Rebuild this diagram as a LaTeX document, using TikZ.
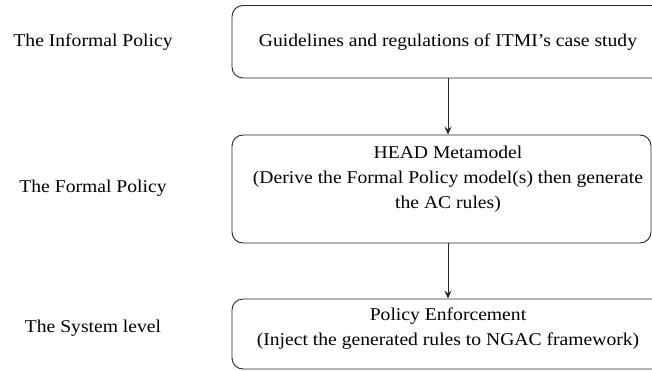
\documentclass[tikz,border=0pt]{standalone}
\usepackage{fontspec}
\setmainfont[FakeStretch=1.09]{Liberation Serif}
\usetikzlibrary{arrows.meta}
\begin{document}
\begin{tikzpicture}[x=1pt,y=-1pt,
  stagebox/.style={draw=black!85, line width=0.9pt, rounded corners=11pt, inner sep=0pt},
  boxtext/.style={align=center, font=\fontsize{18}{25}\selectfont, inner sep=0pt},
  sidelabel/.style={font=\fontsize{18}{22}\selectfont, inner sep=0pt},
  flow/.style={draw=black!85, line width=0.9pt, -{Stealth[length=8pt,width=7pt,inset=3pt]}}
]
\useasboundingbox (0,0) rectangle (652,371);
\clip (0,0) rectangle (652,371);
\fill[white] (0,0) rectangle (652,371);

% stage boxes
\node[stagebox, minimum width=432pt, minimum height=72.5pt] (b1) at (448,41.75) {};
\node[stagebox, minimum width=419pt, minimum height=108pt] (b2) at (441.5,189) {};
\node[stagebox, minimum width=432pt, minimum height=70pt] (b3) at (448,334) {};

% box texts
\node[boxtext] (t1) at (448,42) {Guidelines and regulations of ITMI’s case study};
\node[boxtext] (t2) at (448,179.5) {HEAD Metamodel\\(Derive the Formal Policy model(s) then generate\\the AC rules)};
\node[boxtext] (t3) at (448,329) {Policy Enforcement\\(Inject the generated rules to NGAC framework)};

% level labels
\node[sidelabel] (l1) at (93,42) {The Informal Policy};
\node[sidelabel] (l2) at (93,188) {The Formal Policy};
\node[sidelabel] (l3) at (93,328) {The System level};

% flow between stages
\draw[flow] (b1.south) -- (b1.south |- b2.north);
\draw[flow] (b1.south |- b2.south) -- (b3.north);
\end{tikzpicture}
\end{document}
